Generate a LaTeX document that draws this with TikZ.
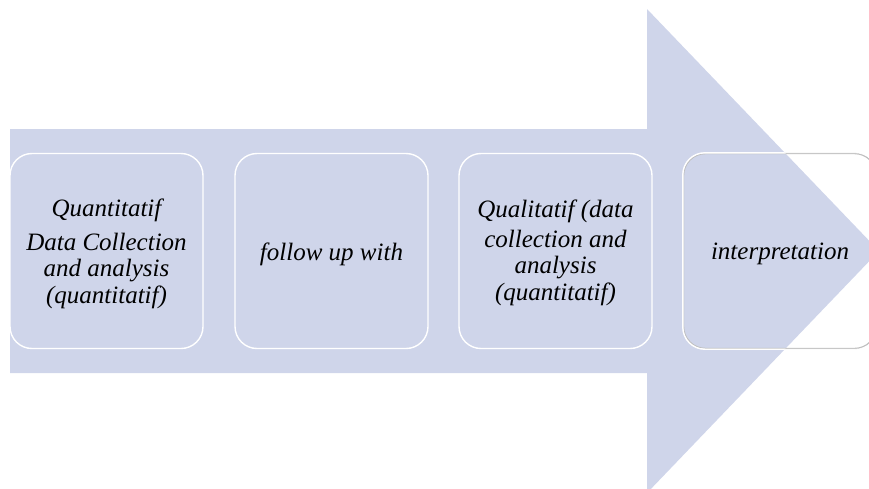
\documentclass[tikz,border=0pt]{standalone}
\usepackage{fontspec}
\setmainfont{Liberation Serif}
\definecolor{arrowblue}{RGB}{207,213,234}
\begin{document}
\begin{tikzpicture}[x=1pt,y=-1pt,
  stagebox/.style={minimum width=193pt,minimum height=195pt,rounded corners=22pt,line width=1.4pt},
  stagetext/.style={align=center,inner sep=0pt,font=\fontsize{25}{26.5}\selectfont\itshape,text=black},
]
\useasboundingbox (0,0) rectangle (869,488);
\begin{scope}
\clip (0,0) rectangle (869,488);
% big arrow
\path[fill=arrowblue] (10,129) -- (647,129) -- (647,9) -- (879,251) -- (647,493) -- (647,373) -- (10,373) -- cycle;
% boxes
\node[stagebox,draw=white] (b1) at (106.5,251) {};
\node[stagebox,draw=white] (b2) at (331.5,251) {};
\node[stagebox,draw=white] (b3) at (555.5,251) {};
\node[stagebox,draw=black!25] (b4) at (780,251) {};
\begin{scope}
\clip (10,129) -- (647,129) -- (647,9) -- (879,251) -- (647,493) -- (647,373) -- (10,373) -- cycle;
\draw[white,line width=1.4pt,rounded corners=22pt] (b4.north west) rectangle (b4.south east);
\end{scope}
\draw[white,line width=0.6pt,rounded corners=22pt] (b4.north west) rectangle (b4.south east);
% texts
\node[stagetext] (t1) at ([yshift=-3pt]b1.center)
  {Quantitatif\\[7pt]Data Collection\\and analysis\\(quantitatif)};
\node[stagetext] (t2) at ([yshift=-3pt]b2.center) {follow up with};
\node[stagetext] (t3) at ([yshift=-2pt]b3.center)
  {Qualitatif (data\\[3pt]collection and\\analysis\\(quantitatif)};
\node[stagetext] (t4) at ([yshift=-3pt]b4.center) {interpretation};
\end{scope}
\end{tikzpicture}
\end{document}
